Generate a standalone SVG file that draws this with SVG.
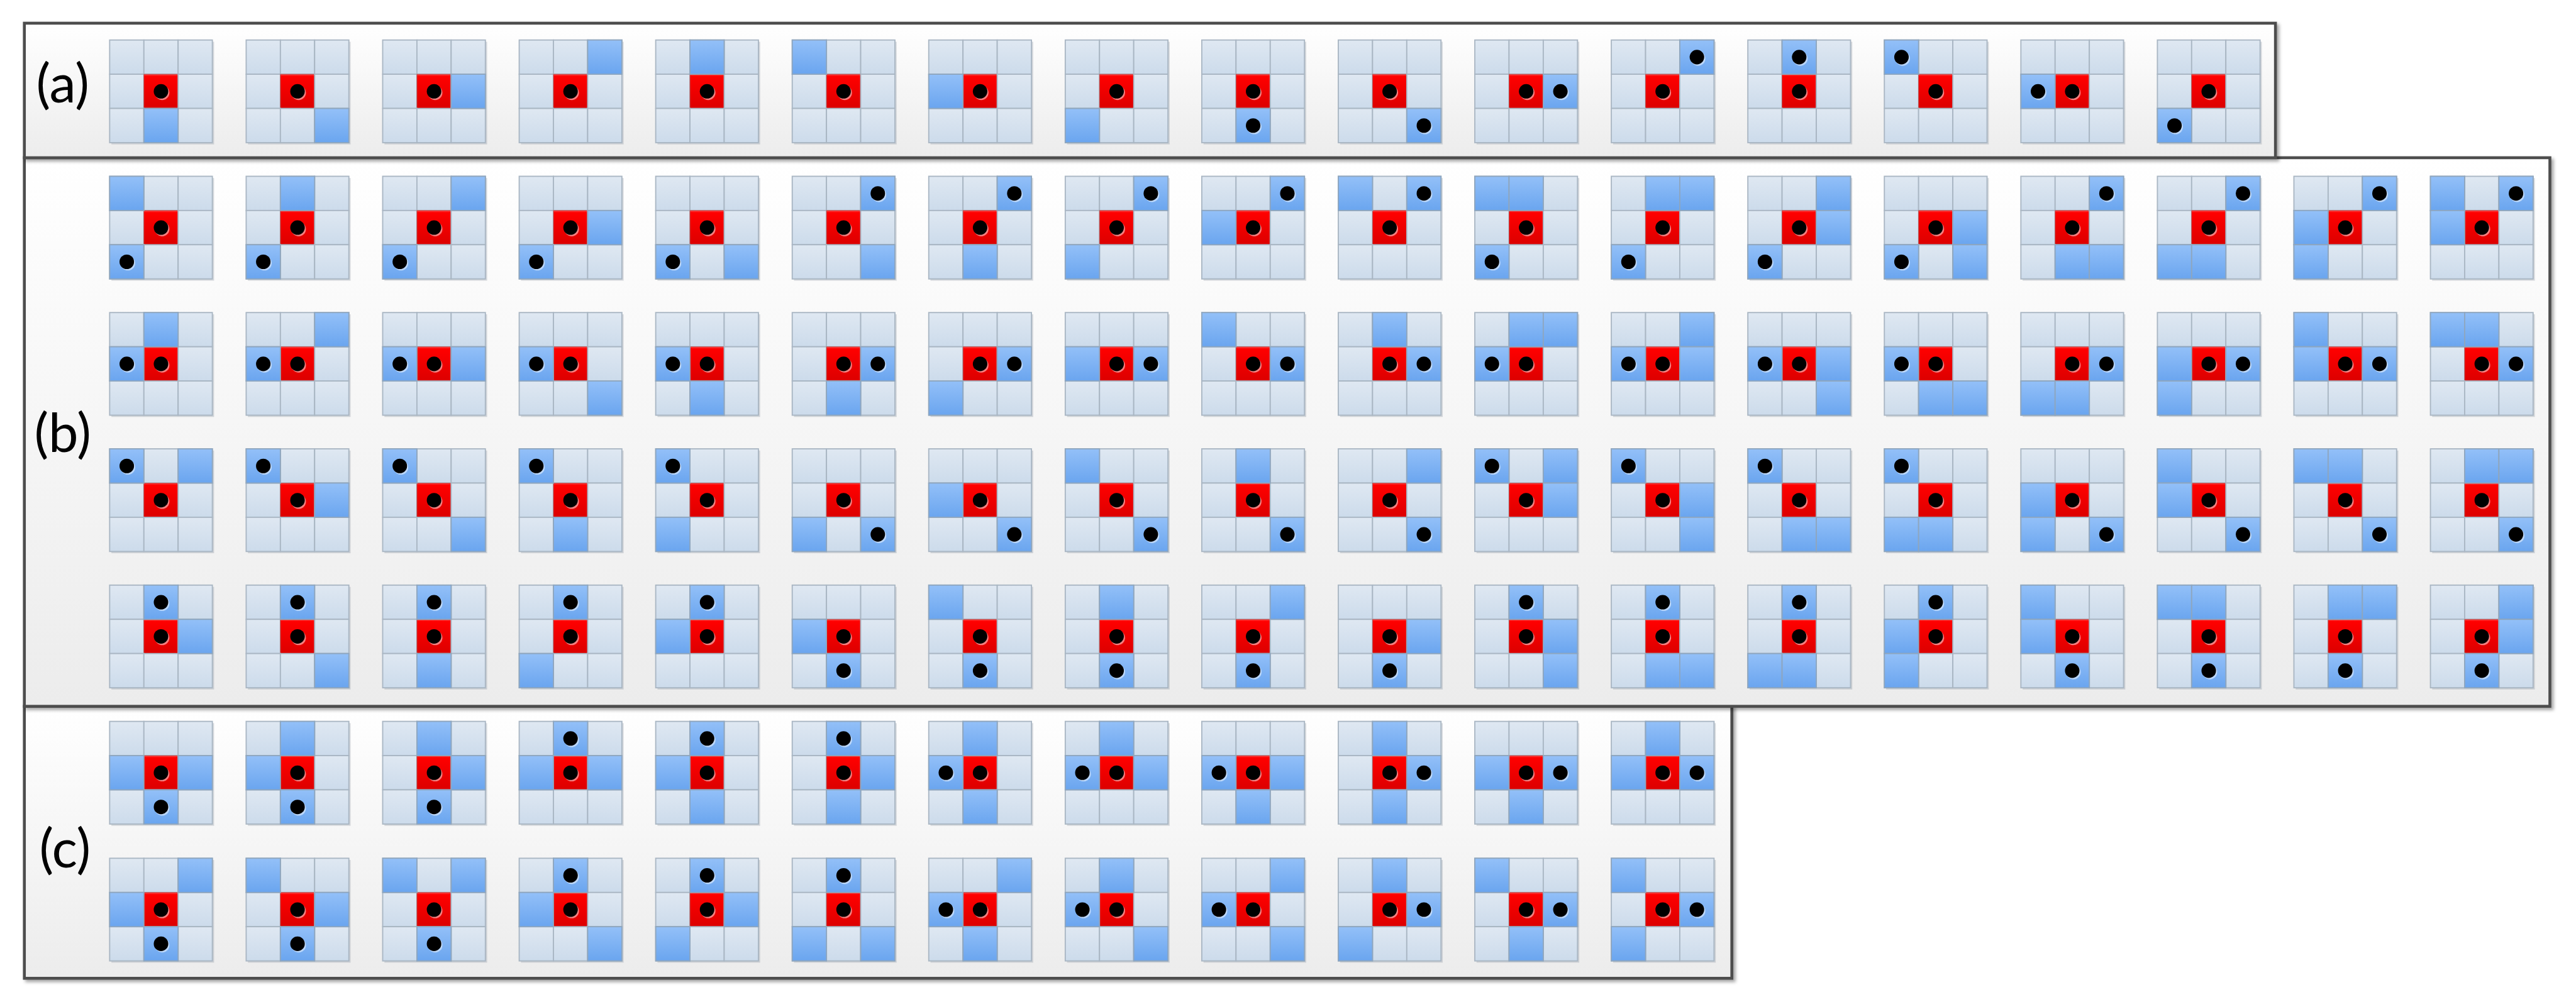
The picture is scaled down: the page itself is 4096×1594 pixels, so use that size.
<svg xmlns="http://www.w3.org/2000/svg" xmlns:xlink="http://www.w3.org/1999/xlink" width="4096" height="1594" viewBox="0 0 4096 1594">
<style>
.lt{fill:url(#gL);stroke:#a9b6c3;stroke-width:2}
.dk{fill:url(#gD);stroke:#8ea6bf;stroke-width:2}
.rd{fill:url(#gR);stroke:#b85050;stroke-width:1}
.pn{fill:url(#gP);stroke:#4d4d4d;stroke-width:5;filter:url(#sh)}
.lb{font-family:Lato,"Open Sans","Liberation Sans",sans-serif;font-size:92px;fill:#000;text-anchor:middle}
</style>
<defs>
<linearGradient id="gL" x1="0" y1="0" x2="0" y2="1"><stop offset="0" stop-color="#dfe8f2"/><stop offset="1" stop-color="#ccdbeb"/></linearGradient>
<linearGradient id="gD" x1="0" y1="0" x2="0" y2="1"><stop offset="0" stop-color="#93c0f8"/><stop offset="1" stop-color="#6aa5ef"/></linearGradient>
<linearGradient id="gR" x1="0" y1="0" x2="0" y2="1"><stop offset="0" stop-color="#ff4a4a"/><stop offset="0.06" stop-color="#ff0000"/><stop offset="1" stop-color="#dc0000"/></linearGradient>
<linearGradient id="gP" x1="0" y1="0" x2="0" y2="1"><stop offset="0" stop-color="#ffffff"/><stop offset="1" stop-color="#ececec"/></linearGradient>
<filter id="sh" x="-2%" y="-5%" width="104%" height="110%"><feDropShadow dx="4" dy="4" stdDeviation="3" flood-color="#000" flood-opacity="0.35"/></filter>
<g id="p"><circle cx="31.5" cy="32" r="12.5" fill="#ffffff" opacity="0.5"/><circle cx="29.5" cy="29.5" r="12.5" fill="#000"/></g>
<g id="d"><rect width="59" height="59" class="dk"/></g>
<g id="q"><rect width="59" height="59" class="dk"/><use href="#p"/></g>
<g id="base">
<rect x="3" y="3" width="177" height="177" fill="#8f99a4" opacity="0.35"/>
<rect x="0" y="0" width="59" height="59" class="lt"/><rect x="59" y="0" width="59" height="59" class="lt"/><rect x="118" y="0" width="59" height="59" class="lt"/>
<rect x="0" y="59" width="59" height="59" class="lt"/><rect x="59" y="59" width="59" height="59" class="rd"/><rect x="118" y="59" width="59" height="59" class="lt"/>
<rect x="0" y="118" width="59" height="59" class="lt"/><rect x="59" y="118" width="59" height="59" class="lt"/><rect x="118" y="118" width="59" height="59" class="lt"/>
<use href="#p" x="59" y="59"/>
</g>
</defs>
<rect width="4096" height="1594" fill="#ffffff"/>
<g transform="scale(0.92252)">
<g id="panels">
<rect id="panel-c" class="pn" x="42" y="1218" width="2943" height="469"/>
<rect id="panel-b" class="pn" x="42" y="272" width="4353" height="946"/>
<rect id="panel-a" class="pn" x="42" y="40" width="3880" height="232"/>
<text id="label-a" class="lb" x="108" y="177">(a)</text>
<text id="label-b" class="lb" x="108" y="779">(b)</text>
<text id="label-c" class="lb" x="112" y="1496">(c)</text>
</g>
<g id="connectors"/>
<g id="tiles-a">
<g id="a01" transform="translate(189,69)"><use href="#base"/><use href="#d" x="59" y="118"/></g>
<g id="a02" transform="translate(424.3,69)"><use href="#base"/><use href="#d" x="118" y="118"/></g>
<g id="a03" transform="translate(659.6,69)"><use href="#base"/><use href="#d" x="118" y="59"/></g>
<g id="a04" transform="translate(894.9,69)"><use href="#base"/><use href="#d" x="118" y="0"/></g>
<g id="a05" transform="translate(1130.2,69)"><use href="#base"/><use href="#d" x="59" y="0"/></g>
<g id="a06" transform="translate(1365.5,69)"><use href="#base"/><use href="#d" x="0" y="0"/></g>
<g id="a07" transform="translate(1600.8,69)"><use href="#base"/><use href="#d" x="0" y="59"/></g>
<g id="a08" transform="translate(1836.1,69)"><use href="#base"/><use href="#d" x="0" y="118"/></g>
<g id="a09" transform="translate(2071.4,69)"><use href="#base"/><use href="#q" x="59" y="118"/></g>
<g id="a10" transform="translate(2306.7,69)"><use href="#base"/><use href="#q" x="118" y="118"/></g>
<g id="a11" transform="translate(2542,69)"><use href="#base"/><use href="#q" x="118" y="59"/></g>
<g id="a12" transform="translate(2777.3,69)"><use href="#base"/><use href="#q" x="118" y="0"/></g>
<g id="a13" transform="translate(3012.6,69)"><use href="#base"/><use href="#q" x="59" y="0"/></g>
<g id="a14" transform="translate(3247.9,69)"><use href="#base"/><use href="#q" x="0" y="0"/></g>
<g id="a15" transform="translate(3483.2,69)"><use href="#base"/><use href="#q" x="0" y="59"/></g>
<g id="a16" transform="translate(3718.5,69)"><use href="#base"/><use href="#q" x="0" y="118"/></g>
</g>
<g id="tiles-b">
<g id="b1-01" transform="translate(189,304)"><use href="#base"/><use href="#d" x="0" y="0"/><use href="#q" x="0" y="118"/></g>
<g id="b1-02" transform="translate(424.3,304)"><use href="#base"/><use href="#d" x="59" y="0"/><use href="#q" x="0" y="118"/></g>
<g id="b1-03" transform="translate(659.6,304)"><use href="#base"/><use href="#d" x="118" y="0"/><use href="#q" x="0" y="118"/></g>
<g id="b1-04" transform="translate(894.9,304)"><use href="#base"/><use href="#d" x="118" y="59"/><use href="#q" x="0" y="118"/></g>
<g id="b1-05" transform="translate(1130.2,304)"><use href="#base"/><use href="#d" x="118" y="118"/><use href="#q" x="0" y="118"/></g>
<g id="b1-06" transform="translate(1365.5,304)"><use href="#base"/><use href="#d" x="118" y="118"/><use href="#q" x="118" y="0"/></g>
<g id="b1-07" transform="translate(1600.8,304)"><use href="#base"/><use href="#d" x="59" y="118"/><use href="#q" x="118" y="0"/></g>
<g id="b1-08" transform="translate(1836.1,304)"><use href="#base"/><use href="#d" x="0" y="118"/><use href="#q" x="118" y="0"/></g>
<g id="b1-09" transform="translate(2071.4,304)"><use href="#base"/><use href="#d" x="0" y="59"/><use href="#q" x="118" y="0"/></g>
<g id="b1-10" transform="translate(2306.7,304)"><use href="#base"/><use href="#d" x="0" y="0"/><use href="#q" x="118" y="0"/></g>
<g id="b1-11" transform="translate(2542,304)"><use href="#base"/><use href="#d" x="0" y="0"/><use href="#d" x="59" y="0"/><use href="#q" x="0" y="118"/></g>
<g id="b1-12" transform="translate(2777.3,304)"><use href="#base"/><use href="#d" x="59" y="0"/><use href="#d" x="118" y="0"/><use href="#q" x="0" y="118"/></g>
<g id="b1-13" transform="translate(3012.6,304)"><use href="#base"/><use href="#d" x="118" y="0"/><use href="#d" x="118" y="59"/><use href="#q" x="0" y="118"/></g>
<g id="b1-14" transform="translate(3247.9,304)"><use href="#base"/><use href="#d" x="118" y="59"/><use href="#d" x="118" y="118"/><use href="#q" x="0" y="118"/></g>
<g id="b1-15" transform="translate(3483.2,304)"><use href="#base"/><use href="#d" x="59" y="118"/><use href="#d" x="118" y="118"/><use href="#q" x="118" y="0"/></g>
<g id="b1-16" transform="translate(3718.5,304)"><use href="#base"/><use href="#d" x="0" y="118"/><use href="#d" x="59" y="118"/><use href="#q" x="118" y="0"/></g>
<g id="b1-17" transform="translate(3953.8,304)"><use href="#base"/><use href="#d" x="0" y="59"/><use href="#d" x="0" y="118"/><use href="#q" x="118" y="0"/></g>
<g id="b1-18" transform="translate(4189.1,304)"><use href="#base"/><use href="#d" x="0" y="0"/><use href="#d" x="0" y="59"/><use href="#q" x="118" y="0"/></g>

<g id="b2-01" transform="translate(189,539)"><use href="#base"/><use href="#d" x="59" y="0"/><use href="#q" x="0" y="59"/></g>
<g id="b2-02" transform="translate(424.3,539)"><use href="#base"/><use href="#d" x="118" y="0"/><use href="#q" x="0" y="59"/></g>
<g id="b2-03" transform="translate(659.6,539)"><use href="#base"/><use href="#d" x="118" y="59"/><use href="#q" x="0" y="59"/></g>
<g id="b2-04" transform="translate(894.9,539)"><use href="#base"/><use href="#d" x="118" y="118"/><use href="#q" x="0" y="59"/></g>
<g id="b2-05" transform="translate(1130.2,539)"><use href="#base"/><use href="#d" x="59" y="118"/><use href="#q" x="0" y="59"/></g>
<g id="b2-06" transform="translate(1365.5,539)"><use href="#base"/><use href="#d" x="59" y="118"/><use href="#q" x="118" y="59"/></g>
<g id="b2-07" transform="translate(1600.8,539)"><use href="#base"/><use href="#d" x="0" y="118"/><use href="#q" x="118" y="59"/></g>
<g id="b2-08" transform="translate(1836.1,539)"><use href="#base"/><use href="#d" x="0" y="59"/><use href="#q" x="118" y="59"/></g>
<g id="b2-09" transform="translate(2071.4,539)"><use href="#base"/><use href="#d" x="0" y="0"/><use href="#q" x="118" y="59"/></g>
<g id="b2-10" transform="translate(2306.7,539)"><use href="#base"/><use href="#d" x="59" y="0"/><use href="#q" x="118" y="59"/></g>
<g id="b2-11" transform="translate(2542,539)"><use href="#base"/><use href="#d" x="59" y="0"/><use href="#d" x="118" y="0"/><use href="#q" x="0" y="59"/></g>
<g id="b2-12" transform="translate(2777.3,539)"><use href="#base"/><use href="#d" x="118" y="0"/><use href="#d" x="118" y="59"/><use href="#q" x="0" y="59"/></g>
<g id="b2-13" transform="translate(3012.6,539)"><use href="#base"/><use href="#d" x="118" y="59"/><use href="#d" x="118" y="118"/><use href="#q" x="0" y="59"/></g>
<g id="b2-14" transform="translate(3247.9,539)"><use href="#base"/><use href="#d" x="59" y="118"/><use href="#d" x="118" y="118"/><use href="#q" x="0" y="59"/></g>
<g id="b2-15" transform="translate(3483.2,539)"><use href="#base"/><use href="#d" x="0" y="118"/><use href="#d" x="59" y="118"/><use href="#q" x="118" y="59"/></g>
<g id="b2-16" transform="translate(3718.5,539)"><use href="#base"/><use href="#d" x="0" y="59"/><use href="#d" x="0" y="118"/><use href="#q" x="118" y="59"/></g>
<g id="b2-17" transform="translate(3953.8,539)"><use href="#base"/><use href="#d" x="0" y="0"/><use href="#d" x="0" y="59"/><use href="#q" x="118" y="59"/></g>
<g id="b2-18" transform="translate(4189.1,539)"><use href="#base"/><use href="#d" x="0" y="0"/><use href="#d" x="59" y="0"/><use href="#q" x="118" y="59"/></g>

<g id="b3-01" transform="translate(189,774)"><use href="#base"/><use href="#d" x="118" y="0"/><use href="#q" x="0" y="0"/></g>
<g id="b3-02" transform="translate(424.3,774)"><use href="#base"/><use href="#d" x="118" y="59"/><use href="#q" x="0" y="0"/></g>
<g id="b3-03" transform="translate(659.6,774)"><use href="#base"/><use href="#d" x="118" y="118"/><use href="#q" x="0" y="0"/></g>
<g id="b3-04" transform="translate(894.9,774)"><use href="#base"/><use href="#d" x="59" y="118"/><use href="#q" x="0" y="0"/></g>
<g id="b3-05" transform="translate(1130.2,774)"><use href="#base"/><use href="#d" x="0" y="118"/><use href="#q" x="0" y="0"/></g>
<g id="b3-06" transform="translate(1365.5,774)"><use href="#base"/><use href="#d" x="0" y="118"/><use href="#q" x="118" y="118"/></g>
<g id="b3-07" transform="translate(1600.8,774)"><use href="#base"/><use href="#d" x="0" y="59"/><use href="#q" x="118" y="118"/></g>
<g id="b3-08" transform="translate(1836.1,774)"><use href="#base"/><use href="#d" x="0" y="0"/><use href="#q" x="118" y="118"/></g>
<g id="b3-09" transform="translate(2071.4,774)"><use href="#base"/><use href="#d" x="59" y="0"/><use href="#q" x="118" y="118"/></g>
<g id="b3-10" transform="translate(2306.7,774)"><use href="#base"/><use href="#d" x="118" y="0"/><use href="#q" x="118" y="118"/></g>
<g id="b3-11" transform="translate(2542,774)"><use href="#base"/><use href="#d" x="118" y="0"/><use href="#d" x="118" y="59"/><use href="#q" x="0" y="0"/></g>
<g id="b3-12" transform="translate(2777.3,774)"><use href="#base"/><use href="#d" x="118" y="59"/><use href="#d" x="118" y="118"/><use href="#q" x="0" y="0"/></g>
<g id="b3-13" transform="translate(3012.6,774)"><use href="#base"/><use href="#d" x="59" y="118"/><use href="#d" x="118" y="118"/><use href="#q" x="0" y="0"/></g>
<g id="b3-14" transform="translate(3247.9,774)"><use href="#base"/><use href="#d" x="0" y="118"/><use href="#d" x="59" y="118"/><use href="#q" x="0" y="0"/></g>
<g id="b3-15" transform="translate(3483.2,774)"><use href="#base"/><use href="#d" x="0" y="59"/><use href="#d" x="0" y="118"/><use href="#q" x="118" y="118"/></g>
<g id="b3-16" transform="translate(3718.5,774)"><use href="#base"/><use href="#d" x="0" y="0"/><use href="#d" x="0" y="59"/><use href="#q" x="118" y="118"/></g>
<g id="b3-17" transform="translate(3953.8,774)"><use href="#base"/><use href="#d" x="0" y="0"/><use href="#d" x="59" y="0"/><use href="#q" x="118" y="118"/></g>
<g id="b3-18" transform="translate(4189.1,774)"><use href="#base"/><use href="#d" x="59" y="0"/><use href="#d" x="118" y="0"/><use href="#q" x="118" y="118"/></g>

<g id="b4-01" transform="translate(189,1009)"><use href="#base"/><use href="#d" x="118" y="59"/><use href="#q" x="59" y="0"/></g>
<g id="b4-02" transform="translate(424.3,1009)"><use href="#base"/><use href="#d" x="118" y="118"/><use href="#q" x="59" y="0"/></g>
<g id="b4-03" transform="translate(659.6,1009)"><use href="#base"/><use href="#d" x="59" y="118"/><use href="#q" x="59" y="0"/></g>
<g id="b4-04" transform="translate(894.9,1009)"><use href="#base"/><use href="#d" x="0" y="118"/><use href="#q" x="59" y="0"/></g>
<g id="b4-05" transform="translate(1130.2,1009)"><use href="#base"/><use href="#d" x="0" y="59"/><use href="#q" x="59" y="0"/></g>
<g id="b4-06" transform="translate(1365.5,1009)"><use href="#base"/><use href="#d" x="0" y="59"/><use href="#q" x="59" y="118"/></g>
<g id="b4-07" transform="translate(1600.8,1009)"><use href="#base"/><use href="#d" x="0" y="0"/><use href="#q" x="59" y="118"/></g>
<g id="b4-08" transform="translate(1836.1,1009)"><use href="#base"/><use href="#d" x="59" y="0"/><use href="#q" x="59" y="118"/></g>
<g id="b4-09" transform="translate(2071.4,1009)"><use href="#base"/><use href="#d" x="118" y="0"/><use href="#q" x="59" y="118"/></g>
<g id="b4-10" transform="translate(2306.7,1009)"><use href="#base"/><use href="#d" x="118" y="59"/><use href="#q" x="59" y="118"/></g>
<g id="b4-11" transform="translate(2542,1009)"><use href="#base"/><use href="#d" x="118" y="59"/><use href="#d" x="118" y="118"/><use href="#q" x="59" y="0"/></g>
<g id="b4-12" transform="translate(2777.3,1009)"><use href="#base"/><use href="#d" x="59" y="118"/><use href="#d" x="118" y="118"/><use href="#q" x="59" y="0"/></g>
<g id="b4-13" transform="translate(3012.6,1009)"><use href="#base"/><use href="#d" x="0" y="118"/><use href="#d" x="59" y="118"/><use href="#q" x="59" y="0"/></g>
<g id="b4-14" transform="translate(3247.9,1009)"><use href="#base"/><use href="#d" x="0" y="59"/><use href="#d" x="0" y="118"/><use href="#q" x="59" y="0"/></g>
<g id="b4-15" transform="translate(3483.2,1009)"><use href="#base"/><use href="#d" x="0" y="0"/><use href="#d" x="0" y="59"/><use href="#q" x="59" y="118"/></g>
<g id="b4-16" transform="translate(3718.5,1009)"><use href="#base"/><use href="#d" x="0" y="0"/><use href="#d" x="59" y="0"/><use href="#q" x="59" y="118"/></g>
<g id="b4-17" transform="translate(3953.8,1009)"><use href="#base"/><use href="#d" x="59" y="0"/><use href="#d" x="118" y="0"/><use href="#q" x="59" y="118"/></g>
<g id="b4-18" transform="translate(4189.1,1009)"><use href="#base"/><use href="#d" x="118" y="0"/><use href="#d" x="118" y="59"/><use href="#q" x="59" y="118"/></g>
</g>
<g id="tiles-c">
<g id="c1-01" transform="translate(189,1244)"><use href="#base"/><use href="#d" x="0" y="59"/><use href="#d" x="118" y="59"/><use href="#q" x="59" y="118"/></g>
<g id="c1-02" transform="translate(424.3,1244)"><use href="#base"/><use href="#d" x="59" y="0"/><use href="#d" x="0" y="59"/><use href="#q" x="59" y="118"/></g>
<g id="c1-03" transform="translate(659.6,1244)"><use href="#base"/><use href="#d" x="59" y="0"/><use href="#d" x="118" y="59"/><use href="#q" x="59" y="118"/></g>
<g id="c1-04" transform="translate(894.9,1244)"><use href="#base"/><use href="#d" x="0" y="59"/><use href="#d" x="118" y="59"/><use href="#q" x="59" y="0"/></g>
<g id="c1-05" transform="translate(1130.2,1244)"><use href="#base"/><use href="#d" x="0" y="59"/><use href="#d" x="59" y="118"/><use href="#q" x="59" y="0"/></g>
<g id="c1-06" transform="translate(1365.5,1244)"><use href="#base"/><use href="#d" x="118" y="59"/><use href="#d" x="59" y="118"/><use href="#q" x="59" y="0"/></g>
<g id="c1-07" transform="translate(1600.8,1244)"><use href="#base"/><use href="#d" x="59" y="0"/><use href="#d" x="59" y="118"/><use href="#q" x="0" y="59"/></g>
<g id="c1-08" transform="translate(1836.1,1244)"><use href="#base"/><use href="#d" x="59" y="0"/><use href="#d" x="118" y="59"/><use href="#q" x="0" y="59"/></g>
<g id="c1-09" transform="translate(2071.4,1244)"><use href="#base"/><use href="#d" x="118" y="59"/><use href="#d" x="59" y="118"/><use href="#q" x="0" y="59"/></g>
<g id="c1-10" transform="translate(2306.7,1244)"><use href="#base"/><use href="#d" x="59" y="0"/><use href="#d" x="59" y="118"/><use href="#q" x="118" y="59"/></g>
<g id="c1-11" transform="translate(2542,1244)"><use href="#base"/><use href="#d" x="0" y="59"/><use href="#d" x="59" y="118"/><use href="#q" x="118" y="59"/></g>
<g id="c1-12" transform="translate(2777.3,1244)"><use href="#base"/><use href="#d" x="59" y="0"/><use href="#d" x="0" y="59"/><use href="#q" x="118" y="59"/></g>

<g id="c2-01" transform="translate(189,1480)"><use href="#base"/><use href="#d" x="118" y="0"/><use href="#d" x="0" y="59"/><use href="#q" x="59" y="118"/></g>
<g id="c2-02" transform="translate(424.3,1480)"><use href="#base"/><use href="#d" x="0" y="0"/><use href="#d" x="118" y="59"/><use href="#q" x="59" y="118"/></g>
<g id="c2-03" transform="translate(659.6,1480)"><use href="#base"/><use href="#d" x="0" y="0"/><use href="#d" x="118" y="0"/><use href="#q" x="59" y="118"/></g>
<g id="c2-04" transform="translate(894.9,1480)"><use href="#base"/><use href="#d" x="0" y="59"/><use href="#d" x="118" y="118"/><use href="#q" x="59" y="0"/></g>
<g id="c2-05" transform="translate(1130.2,1480)"><use href="#base"/><use href="#d" x="118" y="59"/><use href="#d" x="0" y="118"/><use href="#q" x="59" y="0"/></g>
<g id="c2-06" transform="translate(1365.5,1480)"><use href="#base"/><use href="#d" x="0" y="118"/><use href="#d" x="118" y="118"/><use href="#q" x="59" y="0"/></g>
<g id="c2-07" transform="translate(1600.8,1480)"><use href="#base"/><use href="#d" x="118" y="0"/><use href="#d" x="59" y="118"/><use href="#q" x="0" y="59"/></g>
<g id="c2-08" transform="translate(1836.1,1480)"><use href="#base"/><use href="#d" x="59" y="0"/><use href="#d" x="118" y="118"/><use href="#q" x="0" y="59"/></g>
<g id="c2-09" transform="translate(2071.4,1480)"><use href="#base"/><use href="#d" x="118" y="0"/><use href="#d" x="118" y="118"/><use href="#q" x="0" y="59"/></g>
<g id="c2-10" transform="translate(2306.7,1480)"><use href="#base"/><use href="#d" x="59" y="0"/><use href="#d" x="0" y="118"/><use href="#q" x="118" y="59"/></g>
<g id="c2-11" transform="translate(2542,1480)"><use href="#base"/><use href="#d" x="0" y="0"/><use href="#d" x="59" y="118"/><use href="#q" x="118" y="59"/></g>
<g id="c2-12" transform="translate(2777.3,1480)"><use href="#base"/><use href="#d" x="0" y="0"/><use href="#d" x="0" y="118"/><use href="#q" x="118" y="59"/></g>
</g>
</g>
</svg>
